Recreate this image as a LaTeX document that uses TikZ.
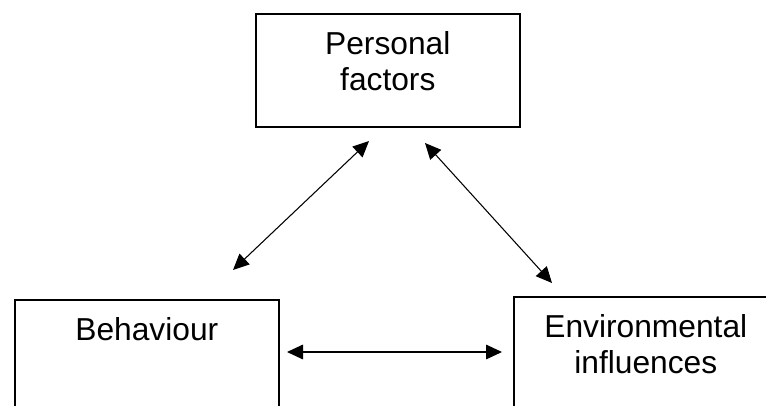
\documentclass[tikz,border=0pt]{standalone}
\usepackage{fontspec}
\setmainfont{Liberation Sans}
\usetikzlibrary{arrows.meta}
\begin{document}
\begin{tikzpicture}[x=0.75pt,y=-0.75pt,
  box/.style={draw=black, line width=1.2pt, rectangle, minimum width=264*0.75pt, minimum height=113*0.75pt, inner sep=0pt, anchor=north west},
  lbl/.style={font=\fontsize{23.8}{27}\selectfont, anchor=base, inner sep=0pt},
  link/.style={line width=0.8pt, {Triangle[length=12pt,width=11pt]}-{Triangle[length=12pt,width=11pt]}}]
\useasboundingbox (0,0) rectangle (766,406);
\clip (0,0) rectangle (766,406);
\fill[white] (0,0) rectangle (766,406);
\node[box] (P) at (255,13) {};
\node[box] (B) at (14,299) {};
\node[box] (E) at (513,296) {};
\node[lbl] (p1) at ([yshift=-31pt]P.north) {Personal};
\node[lbl] (p2) at ([yshift=-58pt]P.north) {factors};
\node[lbl] (b1) at ([yshift=-31pt]B.north) {Behaviour};
\node[lbl] (e1) at ([yshift=-31pt]E.north) {Environmental};
\node[lbl] (e2) at ([yshift=-58pt]E.north) {influences};
\coordinate (pl) at (369,141);
\coordinate (bl) at (233,270);
\coordinate (pr) at (425,143);
\coordinate (er) at (552,283);
\coordinate (bh) at (287,352);
\coordinate (eh) at (502,352);
\draw[link] (bl) -- (pl);
\draw[link] (pr) -- (er);
\draw[link] (bh) -- (eh);
\end{tikzpicture}
\end{document}
